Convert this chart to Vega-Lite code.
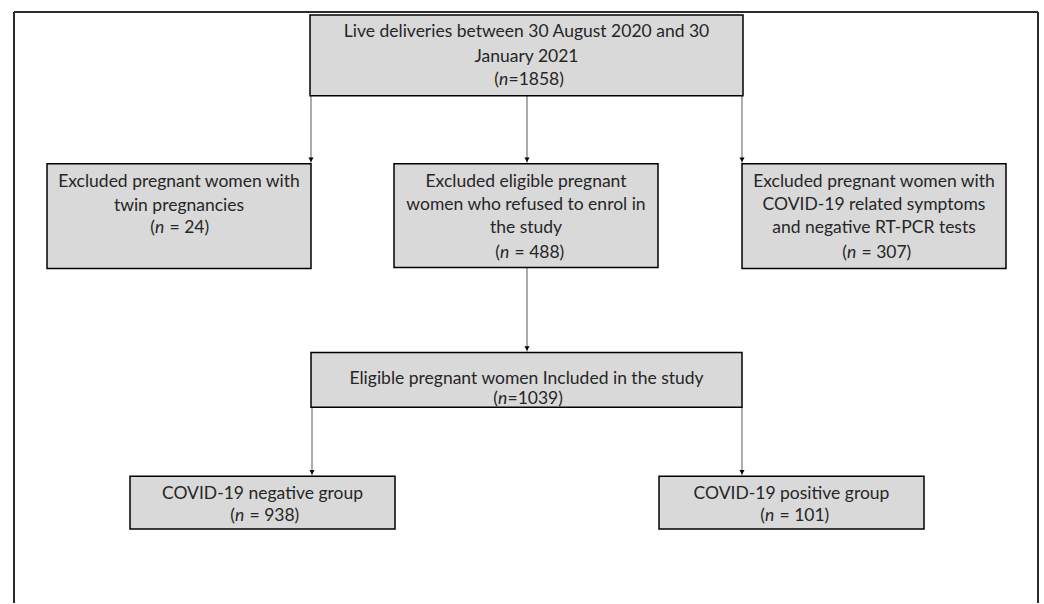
{
  "$schema": "https://vega.github.io/schema/vega-lite/v6.json",
  "width": 1044,
  "height": 604,
  "padding": 0,
  "autosize": {"type": "fit", "contains": "padding"},
  "background": "white",
  "config": {"view": {"stroke": null}},
  "datasets": {
    "boxes": [
      {"id": "top", "x1": 310, "x2": 743, "y1": 15, "y2": 96},
      {"id": "twin", "x1": 47, "x2": 311, "y1": 164, "y2": 269},
      {"id": "refused", "x1": 394, "x2": 658, "y1": 164, "y2": 268},
      {"id": "covidsym", "x1": 742, "x2": 1006, "y1": 164, "y2": 269},
      {"id": "eligible", "x1": 311, "x2": 742, "y1": 353, "y2": 408},
      {"id": "neg", "x1": 130, "x2": 395, "y1": 477, "y2": 530},
      {"id": "pos", "x1": 659, "x2": 924, "y1": 477, "y2": 530}
    ],
    "lines": [
      {"x": 526.5, "y": 32, "t": "Live deliveries between 30 August 2020 and 30"},
      {"x": 526.5, "y": 57, "t": "January 2021"},
      {"x": 179, "y": 182, "t": "Excluded pregnant women with"},
      {"x": 179, "y": 206, "t": "twin pregnancies"},
      {"x": 526, "y": 182, "t": "Excluded eligible pregnant"},
      {"x": 526, "y": 205, "t": "women who refused to enrol in"},
      {"x": 526, "y": 228, "t": "the study"},
      {"x": 874, "y": 182, "t": "Excluded pregnant women with"},
      {"x": 874, "y": 205, "t": "COVID-19 related symptoms"},
      {"x": 874, "y": 228, "t": "and negative RT-PCR tests"},
      {"x": 526.5, "y": 380, "t": "Eligible pregnant women Included in the study"},
      {"x": 262.5, "y": 495, "t": "COVID-19 negative group"},
      {"x": 791.5, "y": 495, "t": "COVID-19 positive group"}
    ],
    "ntight": [
      {"ax": 499, "y": 80, "pre": "(", "it": "n", "post": "=1858)"},
      {"ax": 498, "y": 400, "pre": "(", "it": "n", "post": "=1039)"}
    ],
    "nspaced": [
      {"ax": 155, "y": 228, "pre": "(", "it": "n", "post": "= 24)"},
      {"ax": 500, "y": 253, "pre": "(", "it": "n", "post": "= 488)"},
      {"ax": 847, "y": 253, "pre": "(", "it": "n", "post": "= 307)"},
      {"ax": 235, "y": 517, "pre": "(", "it": "n", "post": "= 938)"},
      {"ax": 765, "y": 517, "pre": "(", "it": "n", "post": "= 101)"}
    ],
    "arrows": [
      {"x": 311, "y1": 96, "y2": 163},
      {"x": 527, "y1": 96, "y2": 163},
      {"x": 742, "y1": 96, "y2": 163},
      {"x": 527, "y1": 268, "y2": 352},
      {"x": 312, "y1": 408, "y2": 476},
      {"x": 742, "y1": 408, "y2": 476}
    ],
    "frame": [
      {"x1": 14, "x2": 14, "y1": 12, "y2": 604},
      {"x1": 14, "x2": 1038, "y1": 12, "y2": 12},
      {"x1": 1038, "x2": 1038, "y1": 12, "y2": 604}
    ]
  },
  "encoding": {},
  "layer": [
    {
      "data": {"name": "frame"},
      "mark": {"type": "rule", "color": "#2b2b2b", "strokeWidth": 2},
      "encoding": {
        "x": {"field": "x1", "type": "quantitative", "scale": {"domain": [0, 1044], "nice": false, "zero": false}, "axis": null},
        "x2": {"field": "x2"},
        "y": {"field": "y1", "type": "quantitative", "scale": {"domain": [0, 604], "nice": false, "zero": false, "reverse": true}, "axis": null},
        "y2": {"field": "y2"}
      }
    },
    {
      "data": {"name": "arrows"},
      "mark": {"type": "rule", "color": "#595959", "strokeWidth": 1},
      "encoding": {
        "x": {"field": "x", "type": "quantitative", "axis": null},
        "y": {"field": "y1", "type": "quantitative", "axis": null},
        "y2": {"field": "y2"}
      }
    },
    {
      "data": {"name": "arrows"},
      "mark": {"type": "point", "shape": "triangle-down", "filled": true, "color": "#000000", "size": 26, "opacity": 1, "yOffset": -3},
      "encoding": {
        "x": {"field": "x", "type": "quantitative", "axis": null},
        "y": {"field": "y2", "type": "quantitative", "axis": null}
      }
    },
    {
      "data": {"name": "boxes"},
      "mark": {"type": "rect", "fill": "#d9d9d9", "stroke": "#000000", "strokeWidth": 1.5},
      "encoding": {
        "x": {"field": "x1", "type": "quantitative", "axis": null},
        "x2": {"field": "x2"},
        "y": {"field": "y1", "type": "quantitative", "axis": null},
        "y2": {"field": "y2"}
      }
    },
    {
      "data": {"name": "lines"},
      "mark": {"type": "text", "font": "Lato", "fontSize": 17.5, "color": "#262626", "align": "center", "baseline": "middle"},
      "encoding": {
        "x": {"field": "x", "type": "quantitative", "axis": null},
        "y": {"field": "y", "type": "quantitative", "axis": null},
        "text": {"field": "t"}
      }
    },
    {
      "data": {"name": "ntight"},
      "layer": [
        {
          "mark": {"type": "text", "font": "Lato", "fontSize": 17.5, "color": "#262626", "align": "right", "baseline": "middle"},
          "encoding": {
            "x": {"field": "ax", "type": "quantitative", "axis": null},
            "y": {"field": "y", "type": "quantitative", "axis": null},
            "text": {"field": "pre"}
          }
        },
        {
          "mark": {"type": "text", "font": "Lato", "fontSize": 17.5, "fontStyle": "italic", "color": "#262626", "align": "left", "baseline": "middle"},
          "encoding": {
            "x": {"field": "ax", "type": "quantitative", "axis": null},
            "y": {"field": "y", "type": "quantitative", "axis": null},
            "text": {"field": "it"}
          }
        },
        {
          "mark": {"type": "text", "font": "Lato", "fontSize": 17.5, "color": "#262626", "align": "left", "baseline": "middle", "dx": 9.5},
          "encoding": {
            "x": {"field": "ax", "type": "quantitative", "axis": null},
            "y": {"field": "y", "type": "quantitative", "axis": null},
            "text": {"field": "post"}
          }
        }
      ]
    },
    {
      "data": {"name": "nspaced"},
      "layer": [
        {
          "mark": {"type": "text", "font": "Lato", "fontSize": 17.5, "color": "#262626", "align": "right", "baseline": "middle"},
          "encoding": {
            "x": {"field": "ax", "type": "quantitative", "axis": null},
            "y": {"field": "y", "type": "quantitative", "axis": null},
            "text": {"field": "pre"}
          }
        },
        {
          "mark": {"type": "text", "font": "Lato", "fontSize": 17.5, "fontStyle": "italic", "color": "#262626", "align": "left", "baseline": "middle"},
          "encoding": {
            "x": {"field": "ax", "type": "quantitative", "axis": null},
            "y": {"field": "y", "type": "quantitative", "axis": null},
            "text": {"field": "it"}
          }
        },
        {
          "mark": {"type": "text", "font": "Lato", "fontSize": 17.5, "color": "#262626", "align": "left", "baseline": "middle", "dx": 14.5},
          "encoding": {
            "x": {"field": "ax", "type": "quantitative", "axis": null},
            "y": {"field": "y", "type": "quantitative", "axis": null},
            "text": {"field": "post"}
          }
        }
      ]
    }
  ]
}
